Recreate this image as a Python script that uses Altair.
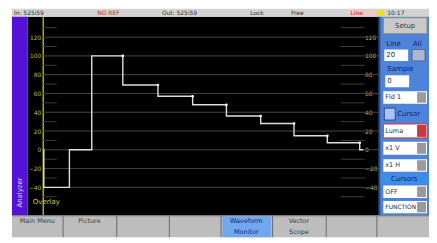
import altair as alt
import pandas as pd

# ---------------- data ----------------
# luminance trace of one line (75% colour bars with 100% white), time in µs, level in IRE
trace_t = [3.4, 3.5, 9.1, 14.0, 20.8, 28.5, 36.1, 43.5, 51.0, 58.3, 65.6, 72.7, 73.5]
trace_ire = [0, -40, 0, 100, 69, 57, 48, 36, 28, 15, 7.5, 0, 0]
major_ire = [-40, -20, 0, 20, 40, 60, 80, 100, 120]
minor_ire = [-50, -30, -10, 10, 30, 50, 70, 90, 110, 130]
x_domain = [0, 77]
y_domain = [-69.8, 141.7]
axis_t = 3.26

top_texts = ["In: 525i59", "NO REF", "Out: 525i59", "Lock", "Free", "Line", "10:17"]
side_menu = ["Setup", "Line", "All", "20", "Sample", "0", "Fld 1", "Cursor",
             "Luma", "x1 V", "x1 H", "Cursors", "OFF", "FUNCTION"]
bottom_buttons = [["Main Menu"], ["Picture"], [""], [""], ["Waveform", "Monitor"],
                  ["Vector", "Scope"], [""], [""]]

FONT = "DejaVu Sans"
ONE = alt.InlineData(values=[{}])

X_SCALE = alt.Scale(domain=x_domain, nice=False, zero=False)
Y_SCALE = alt.Scale(domain=y_domain, nice=False, zero=False)

trace_df = pd.DataFrame({"t": trace_t, "ire": trace_ire})
dots_df = pd.DataFrame({"t": trace_t[4:12], "ire": trace_ire[3:11]})
major_df = pd.DataFrame({"ire": major_ire})
minor_df = pd.DataFrame({"ire": minor_ire})

left_axis = alt.Axis(orient="left", offset=-15, values=major_ire, domainColor="#a9a92c",
                     domainWidth=1.5, ticks=False, labelColor="#b9b93a", labelFontSize=6,
                     labelFont=FONT, labelPadding=2, grid=False, title=None,
                     labelFlush=False, labelOverlap=False, labelBound=False)
right_axis = alt.Axis(orient="right", offset=-17, values=major_ire, domain=False,
                      ticks=False, labelColor="#b9b93a", labelFontSize=6, labelFont=FONT,
                      labelPadding=2, grid=False, title=None, labelFlush=False,
                      labelOverlap=False, labelBound=False)

grid = alt.Chart(major_df).transform_calculate(t0=str(axis_t), t1=str(x_domain[1])).mark_rule(
    color="#464646", strokeWidth=1).encode(
    x=alt.X("t0:Q", scale=X_SCALE, axis=None), x2="t1:Q",
    y=alt.Y("ire:Q", scale=Y_SCALE, axis=left_axis))

minor_l = alt.Chart(minor_df).transform_calculate(t0=str(axis_t), t1="6.3").mark_rule(
    color="#3c3c3c", strokeWidth=1).encode(
    x=alt.X("t0:Q", scale=X_SCALE, axis=None), x2="t1:Q",
    y=alt.Y("ire:Q", scale=Y_SCALE, axis=None))

minor_r = alt.Chart(minor_df).transform_calculate(t0="68.5", t1="73.8").mark_rule(
    color="#3c3c3c", strokeWidth=1).encode(
    x=alt.X("t0:Q", scale=X_SCALE, axis=None), x2="t1:Q",
    y=alt.Y("ire:Q", scale=Y_SCALE, axis=None))

right_lab = alt.Chart(major_df).mark_rule(opacity=0).encode(
    y=alt.Y("ire:Q", scale=Y_SCALE, axis=right_axis))

trace = alt.Chart(trace_df).mark_line(interpolate="step-after", color="#dedede",
                                      strokeWidth=1.4).encode(
    x=alt.X("t:Q", scale=X_SCALE, axis=None),
    y=alt.Y("ire:Q", scale=Y_SCALE, axis=None))

dots = alt.Chart(dots_df).mark_circle(size=7, color="#ffffff", opacity=1).encode(
    x=alt.X("t:Q", scale=X_SCALE, axis=None),
    y=alt.Y("ire:Q", scale=Y_SCALE, axis=None))


def box(x0, y0, x1, y1, fill, stroke=None):
    kw = {"fill": fill}
    if stroke:
        kw.update(stroke=stroke, strokeWidth=1)
    return alt.Chart(ONE).mark_rect(**kw).encode(
        x=alt.value(x0), x2=alt.value(x1), y=alt.value(y0), y2=alt.value(y1))


def label(x, y, s, color="#303030", size=7, align="left", angle=0):
    return alt.Chart(ONE).mark_text(text=s, color=color, fontSize=size, align=align,
                                    baseline="middle", font=FONT, angle=angle).encode(
        x=alt.value(x), y=alt.value(y))


chrome = []
# top status bar
chrome.append(box(-16, -8, 404, 0, "#d3d3d3"))
chrome.append(box(322, -7, 350, -1, "#f0c8c8"))
chrome.append(box(352, -7, 359, -1, "#e8e020"))
for x, s, c in zip([-14, 70, 135, 224, 265, 325, 362], top_texts,
                   ["#303030", "#e02020", "#303030", "#303030", "#303030", "#e02020", "#303030"]):
    chrome.append(label(x, -4, s, color=c, size=6))

# left purple strip
chrome.append(box(-16, 0, 0, 200, "#5512d6"))
chrome.append(label(-8, 177, "Analyzer", color="#dcd0ff", size=7, align="center", angle=270))
chrome.append(label(5, 186.5, "Overlay", color="#c8c840", size=7))

# right side panel
chrome.append(box(354, 0, 404, 200, "#4d84da"))
chrome.append(box(353, 0, 355, 200, "#2c4c86"))
chrome.append(box(358, 1, 402, 17, "#c9c9c9", "#8a8a8a"))
chrome.append(label(380, 9, side_menu[0], color="#404040", align="center"))
chrome.append(label(361, 27, side_menu[1], color="#10206a"))
chrome.append(label(388, 27, side_menu[2], color="#10206a"))
chrome.append(box(359, 33, 383, 44.5, "#ffffff"))
chrome.append(label(361, 39, side_menu[3]))
chrome.append(box(387, 33, 400, 44.5, "#a9b9d4", "#5a6a8a"))
chrome.append(label(362, 53, side_menu[4], color="#10206a"))
chrome.append(box(360, 59, 384, 71, "#ffffff"))
chrome.append(label(362, 65, side_menu[5]))
# dropdown style boxes
dropdowns = [(75, 87.5, side_menu[6], "#ffffff", "#9a9a9a", None),
             (108, 122, side_menu[8], "#ffffff", "#c83a3a", "#e03030"),
             (126, 139, side_menu[9], "#ffffff", "#9a9a9a", None),
             (143.5, 156, side_menu[10], "#ffffff", "#9a9a9a", None),
             (170, 182.5, side_menu[12], "#ffffff", "#9a9a9a", None),
             (185.5, 198, side_menu[13], "#ffffff", "#9a9a9a", None)]
for y0, y1, s, f, arrow, stroke in dropdowns:
    chrome.append(box(358, y0, 402, y1, f, stroke))
    chrome.append(box(392, y0 + 1, 401, y1 - 1, arrow))
    chrome.append(label(360, (y0 + y1) / 2, s, size=6 if len(s) > 6 else 6.5))
chrome.append(box(359, 92, 370, 104, "#a8c4f0", "#2a4a8a"))
chrome.append(label(372, 98, side_menu[7], color="#10206a"))
chrome.append(box(355, 158, 404, 168, "#3d8ee8"))
chrome.append(label(379, 163, side_menu[11], color="#10206a", align="center"))

# bottom soft-key bar
chrome.append(box(-16, 200, 404, 222, "#bdbdbd"))
chrome.append(box(-16, 200, 404, 201, "#6a6a6a"))
chrome.append(box(196, 201, 245, 222, "#70a8f0"))
seps = [35, 89, 142, 194, 246, 300, 351]
for sx in seps:
    chrome.append(box(sx, 201, sx + 1, 222, "#6a6a6a"))
centers = [9.5, 62, 115.5, 168, 220, 273, 325.5, 377.5]
for cx, lines in zip(centers, bottom_buttons):
    for i, s in enumerate(lines):
        if s:
            col = "#0c2a7a" if cx == 220 else "#404040"
            chrome.append(label(cx, 206 + 11 * i, s, color=col, size=6.5, align="center"))

chart = alt.layer(grid, minor_l, minor_r, right_lab, trace, dots, *chrome).resolve_axis(
    y="independent").properties(
    width=354, height=200,
    padding={"left": 20, "top": 8, "right": 50, "bottom": 22},
    autosize=alt.AutoSizeParams(type="none"),
    background="#ffffff",
).configure_view(fill="#000000", strokeWidth=0)

chart.save("out.html", embed_options={"renderer": "svg", "actions": False})
